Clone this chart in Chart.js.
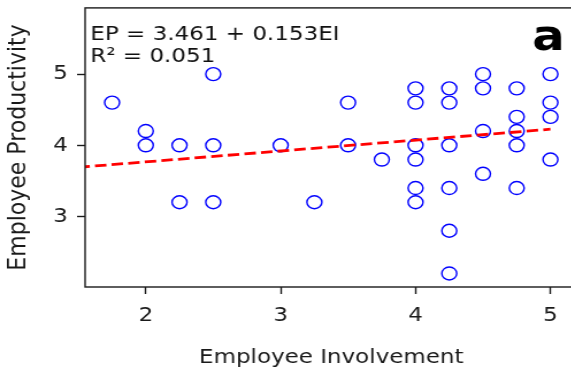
<!DOCTYPE html>
<html>
<head>
<meta charset="utf-8">
<script src="https://cdn.jsdelivr.net/npm/chart.js@4.4.1/dist/chart.umd.min.js"></script>
<style>
  html, body { margin: 0; padding: 0; overflow: hidden; width: 571px; height: 373px; background: #fff; }
  #wrap { width: 510px; height: 373px; transform: scaleX(1.15); transform-origin: 0 0; }
  canvas { display: block; }
</style>
</head>
<body>
<div id="wrap"><canvas id="c" width="510" height="373"></canvas></div>
<script>
// Data
const involvement = [1.75, 2, 2, 2.25, 2.25, 2.5, 2.5, 2.5, 3, 3.25, 3.5, 3.5, 3.75,
  4, 4, 4, 4, 4, 4,
  4.25, 4.25, 4.25, 4.25, 4.25, 4.25,
  4.5, 4.5, 4.5, 4.5,
  4.75, 4.75, 4.75, 4.75, 4.75,
  5, 5, 5, 5];
const productivity = [4.6, 4.2, 4.0, 4.0, 3.2, 5.0, 4.0, 3.2, 4.0, 3.2, 4.6, 4.0, 3.8,
  4.8, 4.6, 4.0, 3.8, 3.4, 3.2,
  4.8, 4.6, 4.0, 3.4, 2.8, 2.2,
  5.0, 4.8, 4.2, 3.6,
  4.8, 4.4, 4.2, 4.0, 3.4,
  5.0, 4.6, 4.4, 3.8];
// Regression line EP = 3.461 + 0.153 EI, endpoints
const fitX = [1.5, 5];
const fitY = [3.691, 4.226];
const xTicks = [2, 3, 4, 5];
const yTicks = [3, 4, 5];
const equationText = "EP = 3.461 + 0.153EI";
const r2Text = "R\u00B2 = 0.051";
const panelLabel = "a";
const xTitle = "Employee Involvement";
const yTitle = "Employee Productivity";

const FONT = "'DejaVu Sans', sans-serif";
const ink = "#1a1a1a";

const framePlugin = {
  id: 'frame',
  afterDraw(chart) {
    const {ctx, chartArea: a} = chart;
    ctx.save();
    ctx.strokeStyle = ink;
    ctx.lineWidth = 1.4;
    ctx.strokeRect(a.left, a.top, a.right - a.left, a.bottom - a.top);
    ctx.fillStyle = "#111";
    ctx.textBaseline = 'alphabetic';
    ctx.textAlign = 'left';
    ctx.font = "20px " + FONT;
    ctx.fillText(equationText, 78.5, 40);
    ctx.fillText(r2Text, 78.5, 61.5);
    ctx.font = "bold 42px " + FONT;
    ctx.textAlign = 'right';
    ctx.fillStyle = "#000";
    ctx.fillText(panelLabel, 491, 50);
    ctx.restore();
  }
};

const points = involvement.map((x, i) => ({x: x, y: productivity[i]}));
const fit = fitX.map((x, i) => ({x: x, y: fitY[i]}));

new Chart(document.getElementById('c'), {
  type: 'scatter',
  data: {
    datasets: [
      {
        data: points,
        pointStyle: 'circle',
        pointRadius: 6.5,
        pointHoverRadius: 6.5,
        borderColor: '#0000ff',
        backgroundColor: 'rgba(0,0,0,0)',
        borderWidth: 1.4,
        order: 2
      },
      {
        type: 'line',
        data: fit,
        borderColor: '#ff0000',
        borderWidth: 2.8,
        borderDash: [10, 4.5],
        pointRadius: 0,
        fill: false,
        order: 1
      }
    ]
  },
  options: {
    responsive: false,
    animation: false,
    devicePixelRatio: 1,
    layout: { padding: { top: 5, right: 7.5, left: 0, bottom: 0 } },
    plugins: { legend: { display: false }, tooltip: { enabled: false } },
    scales: {
      x: {
        type: 'linear',
        min: 1.55,
        max: 5.2,
        afterBuildTicks(s) { s.ticks = xTicks.map(v => ({value: v})); },
        afterFit(s) { s.height = 86; s.paddingLeft = 0; s.paddingRight = 0; },
        grid: { display: true, drawOnChartArea: false, drawTicks: true, tickLength: 7, tickColor: ink, tickWidth: 1.4 },
        border: { display: false },
        ticks: { color: ink, font: { family: FONT, size: 20 }, padding: 10, maxRotation: 0, autoSkip: false },
        title: { display: true, text: xTitle, color: ink, font: { family: FONT, size: 20 }, padding: { top: 0, bottom: 3 } }
      },
      y: {
        type: 'linear',
        min: 2.01,
        max: 5.93,
        afterBuildTicks(s) { s.ticks = yTicks.map(v => ({value: v})); },
        afterFit(s) { s.width = 74; s.paddingTop = 0; s.paddingBottom = 0; },
        grid: { display: true, drawOnChartArea: false, drawTicks: true, tickLength: 7, tickColor: ink, tickWidth: 1.4 },
        border: { display: false },
        ticks: { color: ink, font: { family: FONT, size: 20 }, padding: 8, autoSkip: false },
        title: { display: true, text: yTitle, color: ink, font: { family: FONT, size: 22 }, padding: { top: 3.3, bottom: 0 } }
      }
    }
  },
  plugins: [framePlugin]
});
</script>
</body>
</html>
